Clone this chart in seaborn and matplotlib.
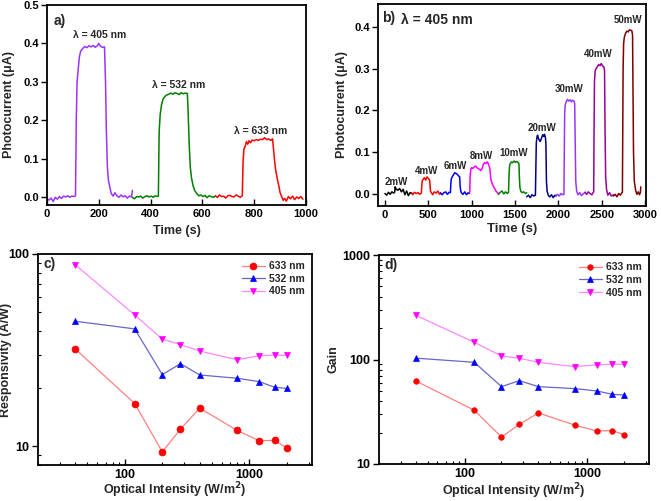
import matplotlib
matplotlib.use('Agg')
import matplotlib.pyplot as plt
import seaborn as sns
import pandas as pd

# ---- panel a: photocurrent vs time at three wavelengths ----
a_t_405 = [0, 8, 16, 24, 32, 40, 48, 56, 64, 72, 80, 88, 96, 104,
           110, 113, 116, 120, 125, 130, 138, 146, 154, 162, 170, 178, 186, 194,
           200, 206, 214, 222, 226, 229, 233, 237, 242, 248, 255, 262, 270, 278,
           286, 294, 302, 310, 318, 326, 330]
a_i_405 = [-0.004, -0.007, -0.002, -0.011, 0.000, -0.005, 0.002, -0.003, 0.003, 0.001, 0.004, 0.000, 0.003, 0.002,
           0.004, 0.20, 0.30, 0.33, 0.365, 0.38, 0.387, 0.392, 0.389, 0.394, 0.391, 0.395, 0.390, 0.394,
           0.400, 0.393, 0.390, 0.391, 0.30, 0.18, 0.08, 0.045, 0.028, 0.010, 0.003, 0.012, 0.004, 0.000,
           0.006, 0.001, 0.004, -0.002, 0.003, 0.001, 0.018]
a_t_532 = [330, 338, 346, 354, 362, 370, 378, 386, 394, 402, 410, 418, 426,
           430, 433, 437, 442, 448, 455, 462, 470, 478, 486, 494, 502, 510, 518, 526, 534, 542,
           545, 549, 553, 558, 564, 570, 578, 586, 594, 602, 610, 618, 626, 634, 642, 650]
a_i_532 = [0.000, -0.004, 0.002, 0.001, 0.003, -0.002, 0.002, 0.004, 0.001, 0.003, 0.000, 0.004, 0.002,
           0.003, 0.17, 0.215, 0.24, 0.255, 0.262, 0.266, 0.268, 0.271, 0.268, 0.272, 0.270, 0.267, 0.272, 0.269, 0.271, 0.270,
           0.22, 0.14, 0.08, 0.05, 0.03, 0.018, 0.010, 0.004, 0.006, 0.002, 0.005, -0.001, 0.004, 0.002, 0.000, 0.003]
a_t_633 = [650, 658, 666, 674, 682, 690, 698, 706, 714, 722, 730, 738, 746, 754,
           757, 760, 765, 770, 775, 780, 786, 792, 800, 808, 816, 824, 832, 840, 848, 856, 864, 871,
           874, 878, 882, 886, 890, 895, 900, 906, 912, 918, 924, 932, 940, 948, 956, 964, 972, 980, 988]
a_i_633 = [0.004, 0.000, 0.006, 0.002, 0.003, -0.002, 0.004, 0.005, 0.002, 0.001, 0.006, 0.003, 0.000, 0.004,
           0.09, 0.125, 0.132, 0.145, 0.138, 0.147, 0.142, 0.149, 0.147, 0.150, 0.148, 0.151, 0.150, 0.155, 0.150, 0.152, 0.148, 0.152,
           0.13, 0.10, 0.075, 0.06, 0.045, 0.03, 0.012, 0.002, -0.008, -0.003, -0.010, 0.002, -0.004, 0.003, -0.006, 0.001, -0.003, 0.002, -0.005]
a_labels = ['λ = 405 nm', 'λ = 532 nm', 'λ = 633 nm']
a_label_t = [202, 510, 823]
a_label_i = [0.423, 0.293, 0.173]

# ---- panel b: photocurrent vs time at 405 nm, increasing power ----
b_t_2mw = [0, 20, 40, 60, 80, 100, 112, 118, 130, 150, 170, 190, 210, 230, 250, 270, 290, 308]
b_i_2mw = [0.000, -0.004, 0.003, -0.002, 0.004, 0.001, 0.003, 0.016, 0.010, 0.008, 0.012, 0.004, 0.010, -0.003, 0.006, -0.005, 0.002, 0.000]
b_t_4mw = [308, 320, 340, 360, 380, 400, 420, 425, 430, 440, 455, 470, 485, 500, 515,
           520, 525, 535, 550, 570, 590, 610, 630, 642]
b_i_4mw = [0.002, -0.003, 0.003, 0.000, 0.002, -0.002, 0.001, 0.020, 0.030, 0.034, 0.038, 0.032, 0.040, 0.036, 0.033,
           0.020, 0.006, 0.002, -0.003, 0.004, 0.001, 0.006, -0.002, 0.002]
b_t_6mw = [642, 660, 680, 700, 720, 740, 755, 760, 765, 775, 790, 805, 820, 835, 850, 862,
           866, 872, 880, 900, 920, 940, 960, 973]
b_i_6mw = [0.001, -0.003, 0.002, 0.004, -0.002, 0.003, 0.002, 0.025, 0.035, 0.040, 0.045, 0.050, 0.048, 0.046, 0.042, 0.040,
           0.020, 0.008, 0.002, -0.002, 0.004, -0.003, 0.002, 0.000]
b_t_8mw = [973, 978, 982, 990, 1000, 1015, 1030, 1045, 1060, 1075, 1090, 1105, 1120, 1135,
           1150, 1165, 1180, 1195, 1210, 1218, 1226, 1240, 1255, 1270, 1285, 1300, 1308]
b_i_8mw = [0.002, 0.003, 0.040, 0.058, 0.062, 0.060, 0.064, 0.066, 0.062, 0.060, 0.058, 0.055, 0.060, 0.070,
           0.074, 0.072, 0.076, 0.070, 0.060, 0.040, 0.030, 0.022, 0.015, 0.010, 0.004, 0.002, -0.002]
b_t_10mw = [1308, 1330, 1350, 1370, 1390, 1410, 1425, 1430, 1436, 1445, 1460, 1475, 1490, 1505, 1520, 1535, 1545,
            1550, 1556, 1565, 1580, 1600, 1620, 1635]
b_i_10mw = [-0.002, 0.003, 0.006, -0.001, 0.004, 0.000, 0.003, 0.040, 0.065, 0.072, 0.076, 0.074, 0.078, 0.075, 0.077, 0.074, 0.072,
            0.040, 0.015, 0.006, 0.002, 0.004, 0.000, 0.002]
b_t_20mw = [1635, 1655, 1675, 1695, 1715, 1735, 1740, 1745, 1752, 1760, 1770, 1780, 1790, 1800, 1810, 1820, 1830, 1840, 1850, 1856,
            1862, 1870, 1885, 1900, 1920, 1940, 1960, 1973]
b_i_20mw = [-0.008, -0.004, -0.010, -0.003, -0.006, -0.004, 0.060, 0.120, 0.135, 0.140, 0.132, 0.128, 0.125, 0.130, 0.136, 0.141, 0.137, 0.142, 0.135, 0.120,
            0.030, 0.005, -0.005, -0.008, -0.003, -0.010, -0.004, -0.006]
b_t_30mw = [1973, 1990, 2010, 2030, 2050, 2064, 2068, 2072, 2078, 2090, 2105, 2120, 2135, 2150, 2165, 2180, 2188,
            2194, 2200, 2210, 2225, 2245, 2265, 2285, 2308]
b_i_30mw = [-0.005, -0.002, -0.006, 0.000, -0.003, -0.002, 0.100, 0.190, 0.212, 0.220, 0.226, 0.222, 0.225, 0.220, 0.224, 0.222, 0.215,
            0.120, 0.030, 0.006, -0.003, 0.002, -0.005, -0.001, 0.003]
b_t_40mw = [2308, 2325, 2345, 2365, 2385, 2400, 2407, 2411, 2416, 2424, 2435, 2450, 2465, 2480, 2495, 2510, 2525, 2532,
            2538, 2545, 2555, 2570, 2590, 2610, 2635]
b_i_40mw = [0.003, -0.002, 0.004, 0.000, -0.003, 0.002, 0.004, 0.150, 0.270, 0.295, 0.300, 0.305, 0.310, 0.307, 0.312, 0.306, 0.304, 0.295,
            0.150, 0.040, 0.010, -0.004, 0.002, -0.006, -0.003]
b_t_50mw = [2635, 2655, 2675, 2695, 2715, 2732, 2738, 2742, 2746, 2752, 2760, 2775, 2790, 2805, 2820, 2835, 2848, 2855,
            2860, 2866, 2875, 2890, 2905, 2920, 2935, 2945, 2950]
b_i_50mw = [-0.006, -0.002, -0.008, 0.000, -0.004, 0.002, 0.003, 0.150, 0.300, 0.360, 0.375, 0.385, 0.390, 0.388, 0.393, 0.392, 0.390, 0.380,
            0.250, 0.100, 0.030, 0.008, -0.002, 0.004, -0.003, 0.002, 0.016]
b_powers = ['2mW', '4mW', '6mW', '8mW', '10mW', '20mW', '30mW', '40mW', '50mW']
b_label_t = [135, 481, 808, 1115, 1488, 1808, 2123, 2462, 2808]
b_label_i = [0.028, 0.054, 0.066, 0.090, 0.098, 0.158, 0.250, 0.334, 0.416]

# ---- panels c, d: responsivity and gain vs optical intensity ----
intensity = [40, 120, 200, 280, 400, 800, 1200, 1600, 2000]
resp_633 = [32.0, 16.7, 9.35, 12.3, 15.8, 12.1, 10.7, 10.75, 9.8]
resp_532 = [44.7, 40.8, 23.6, 26.9, 23.5, 22.6, 21.7, 20.3, 20.0]
resp_405 = [87.7, 48.2, 36.1, 33.8, 31.3, 28.2, 29.6, 29.8, 29.7]
gain_633 = [62.3, 32.7, 18.1, 24.0, 30.8, 23.5, 20.7, 20.9, 19.1]
gain_532 = [103, 94, 55, 62.7, 55, 52.6, 50, 46.5, 45.7]
gain_405 = [265, 146, 108, 102.6, 94, 85.3, 89, 90, 90]
wavelengths = ['633 nm', '532 nm', '405 nm']

sns.set_theme(style='ticks')
plt.rcParams['font.family'] = ['Liberation Sans', 'DejaVu Sans']
plt.rcParams['font.weight'] = 'bold'
plt.rcParams['axes.labelweight'] = 'bold'
plt.rcParams['axes.linewidth'] = 1.3
plt.rcParams['axes.edgecolor'] = 'black'
plt.rcParams['xtick.color'] = 'black'
plt.rcParams['ytick.color'] = 'black'


def style_axes(ax, ticksize):
    for s in ax.spines.values():
        s.set_visible(True)
        s.set_linewidth(1.3)
        s.set_color('black')
    ax.tick_params(axis='both', which='both', labelsize=ticksize)
    ax.tick_params(axis='x', which='major', direction='in', length=4, width=1, pad=3)
    ax.tick_params(axis='y', which='major', direction='out', length=4, width=1, pad=2)
    ax.tick_params(axis='x', which='minor', direction='in', length=2.5, width=0.8)
    ax.tick_params(axis='y', which='minor', direction='in', length=2.5, width=0.8)
    for lab in ax.get_xticklabels() + ax.get_yticklabels():
        lab.set_fontweight('bold')


W, H = 661, 501
fig = plt.figure(figsize=(W / 100, H / 100), dpi=100)
ax_a = fig.add_axes([47 / W, 1 - 205 / H, 259 / W, 200 / H])
ax_b = fig.add_axes([378 / W, 1 - 206 / H, 268 / W, 202 / H])
ax_c = fig.add_axes([38 / W, 1 - 465 / H, 274 / W, 211 / H])
ax_d = fig.add_axes([379 / W, 1 - 464 / H, 270 / W, 209 / H])

# panel a
a_series = [(a_t_405, a_i_405, '#9933FF'), (a_t_532, a_i_532, '#008000'), (a_t_633, a_i_633, '#FF0000')]
for t, i, col in a_series:
    sns.lineplot(x=t, y=i, ax=ax_a, color=col, linewidth=1.1, sort=False, estimator=None)
for lab, tx, ty in zip(a_labels, a_label_t, a_label_i):
    ax_a.text(tx, ty, lab, ha='center', va='center', fontsize=7.5, fontweight='bold')
ax_a.text(0.025, 0.955, 'a)', transform=ax_a.transAxes, ha='left', va='top', fontsize=10, fontweight='bold')
ax_a.set_xlim(0, 1000)
ax_a.set_ylim(-0.02, 0.5)
ax_a.set_xticks([0, 200, 400, 600, 800, 1000])
ax_a.set_yticks([0.0, 0.1, 0.2, 0.3, 0.4, 0.5])
ax_a.set_xlabel('Time (s)', fontsize=9)
ax_a.set_ylabel('Photocurrent (μA)', fontsize=9)
ax_a.xaxis.set_label_coords(0.5, -0.1)
ax_a.yaxis.set_label_coords(-0.125, 0.5)
style_axes(ax_a, 8)

# panel b
b_series = [(b_t_2mw, b_i_2mw, '#000000'), (b_t_4mw, b_i_4mw, '#FF0000'), (b_t_6mw, b_i_6mw, '#0000FF'),
            (b_t_8mw, b_i_8mw, '#FF00FF'), (b_t_10mw, b_i_10mw, '#008000'), (b_t_20mw, b_i_20mw, '#000080'),
            (b_t_30mw, b_i_30mw, '#9933FF'), (b_t_40mw, b_i_40mw, '#990099'), (b_t_50mw, b_i_50mw, '#800000')]
for t, i, col in b_series:
    sns.lineplot(x=t, y=i, ax=ax_b, color=col, linewidth=1.1, sort=False, estimator=None)
for lab, tx, ty in zip(b_powers, b_label_t, b_label_i):
    ax_b.text(tx, ty, lab, ha='center', va='center', fontsize=7, fontweight='bold')
ax_b.text(0.015, 0.965, 'b)', transform=ax_b.transAxes, ha='left', va='top', fontsize=10, fontweight='bold')
ax_b.text(0.085, 0.955, 'λ = 405 nm', transform=ax_b.transAxes, ha='left', va='top', fontsize=10, fontweight='bold')
ax_b.set_xlim(-80, 3010)
ax_b.set_ylim(-0.03, 0.455)
ax_b.set_xticks([0, 500, 1000, 1500, 2000, 2500, 3000])
ax_b.set_yticks([0.0, 0.1, 0.2, 0.3, 0.4])
ax_b.set_xlabel('Time (s)', fontsize=9.5)
ax_b.set_ylabel('Photocurrent (μA)', fontsize=9)
ax_b.xaxis.set_label_coords(0.5, -0.085)
ax_b.yaxis.set_label_coords(-0.112, 0.5)
style_axes(ax_b, 8)

# panels c and d
line_cols = ['#FF8080', '#6666CC', '#FF88FF']
mark_cols = ['#FF0000', '#0000FF', '#FF00FF']
markers = ['o', '^', 'v']


def draw_log_panel(ax, series, msize, letter, ylabel, ylim, yticks, ylab_x, xlab_y):
    for vals, lab, lc, mc, mk in zip(series, wavelengths, line_cols, mark_cols, markers):
        df = pd.DataFrame({'intensity': intensity, 'value': vals})
        sns.lineplot(data=df, x='intensity', y='value', ax=ax, color=lc, linewidth=0.9,
                     marker=mk, markersize=msize, markerfacecolor=mc, markeredgecolor=mc,
                     markeredgewidth=0.5, label=lab, sort=False, estimator=None)
    ax.set_xscale('log')
    ax.set_yscale('log')
    ax.set_xlim(20, 3200)
    ax.set_ylim(*ylim)
    ax.set_xticks([100, 1000])
    ax.set_xticklabels(['100', '1000'])
    ax.set_yticks(yticks)
    ax.set_yticklabels([str(v) for v in yticks])
    ax.set_xlabel('Optical Intensity (W/m$^\\mathbf{2}$)', fontsize=9)
    ax.set_ylabel(ylabel, fontsize=9)
    ax.xaxis.set_label_coords(0.5, xlab_y)
    ax.yaxis.set_label_coords(ylab_x, 0.5)
    ax.text(0.02, 0.985, letter, transform=ax.transAxes, ha='left', va='top', fontsize=10, fontweight='bold')
    leg = ax.legend(loc='upper right', frameon=False, fontsize=7.5, handlelength=2.2,
                    borderaxespad=0.3, labelspacing=0.25, handletextpad=0.4)
    for txt in leg.get_texts():
        txt.set_fontweight('bold')
    style_axes(ax, 9)


draw_log_panel(ax_c, [resp_633, resp_532, resp_405], 5, 'c)', 'Responsivity (A/W)', (8, 100), [10, 100], -0.095, -0.075)
draw_log_panel(ax_d, [gain_633, gain_532, gain_405], 4, 'd)', 'Gain', (10, 1000), [10, 100, 1000], -0.145, -0.085)

fig.savefig('out.png', dpi=100)
